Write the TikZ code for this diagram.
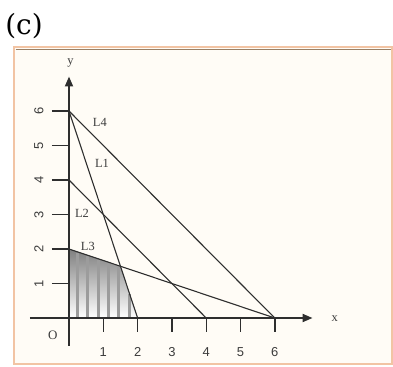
\documentclass[tikz,border=0pt]{standalone}
\usepackage{fontspec}
\setmainfont{Liberation Serif}
\newfontfamily\numfont{Liberation Sans}
\newfontfamily\capfont{DejaVu Serif}
\usetikzlibrary{arrows.meta}
\definecolor{peach}{HTML}{F2C4A4}
\definecolor{cream}{HTML}{FFFCF6}
\definecolor{ink}{HTML}{2E2E2E}
\definecolor{shade}{HTML}{858585}
\definecolor{stripe}{HTML}{9C9C9C}
\definecolor{labelgray}{HTML}{3C3C3C}
\tikzset{
  axisline/.style={ink, line width=1.9bp, -{Triangle[length=10bp,width=8bp]}},
  tickline/.style={ink, line width=1.4bp},
  conline/.style={ink, line width=1.1bp},
  stripeline/.style={stripe, line width=3bp},
  numlabel/.style={font=\numfont\fontsize{13}{13}\selectfont, text=labelgray, inner sep=0pt},
  linelabel/.style={font=\fontsize{12.5}{12.5}\selectfont, text=labelgray, inner sep=0pt}
}
\begin{document}
\begin{tikzpicture}
\useasboundingbox (0,0) rectangle (393bp,367bp);
\fill[white] (0,0) rectangle (393bp,367bp);
\node[font=\capfont\fontsize{28}{30}\selectfont, inner sep=0pt] (cap) at (24bp,341bp) {(c)};
\draw[peach, line width=2.5bp, fill=cream] (14bp,3bp) rectangle (392bp,320bp);
\draw[gray!60!brown, line width=0.8bp] (15.5bp,318bp) -- (390.5bp,318bp);
\begin{scope}[shift={(69bp,49bp)}, x=34.3bp, y=34.5bp]
  % key points
  \coordinate (O) at (0,0);
  \coordinate (A6) at (0,6);
  \coordinate (A4) at (0,4);
  \coordinate (A2) at (0,2);
  \coordinate (B2) at (2,0);
  \coordinate (B4) at (4,0);
  \coordinate (B6) at (6,0);
  \coordinate (P) at (1.5,1.5);
  % shaded feasible region
  \fill[shade] (O) -- (A2) -- (P) -- (B2) -- cycle;
  \foreach \s in {0.25,0.55,0.85,1.15,1.45}
    \draw[stripeline] (\s,0.02) -- (\s,{2-\s/3-0.03});
  \draw[stripeline] (1.75,0.02) -- (1.75,{6-3*1.75-0.05});
  % constraint lines
  \draw[conline] (A6) -- (B6);
  \draw[conline] (A6) -- (B2);
  \draw[conline] (A4) -- (B4);
  \draw[conline] (A2) -- (B6);
  % axes
  \coordinate (xs) at (-1.14,0);
  \coordinate (xe) at (7.1,0);
  \coordinate (ys) at (0,-0.8);
  \coordinate (ye) at (0,7.0);
  \draw[axisline] (xs) -- (xe);
  \draw[axisline] (ys) -- (ye);
  \node[linelabel] (xl) at (7.75,-0.02) {x};
  \node[linelabel] (yl) at (0.04,7.4) {y};
  \node[font=\fontsize{13}{13}\selectfont, text=labelgray, inner sep=0pt] (ol) at (-0.47,-0.5) {O};
  % ticks
  \foreach \i in {1,...,6} {
    \draw[tickline] (\i,0) -- (\i,-0.4);
    \node[numlabel] (xt\i) at (\i,-0.98) {\i};
    \draw[tickline] (-0.5,\i) -- (0,\i);
    \node[numlabel, rotate=90] (yt\i) at (-0.88,\i) {\i};
  }
  % line labels
  \node[linelabel] (l4) at (0.9,5.68) {L4};
  \node[linelabel] (l1) at (0.96,4.49) {L1};
  \node[linelabel] (l2) at (0.38,3.04) {L2};
  \node[linelabel] (l3) at (0.55,2.06) {L3};
\end{scope}
\end{tikzpicture}
\end{document}
